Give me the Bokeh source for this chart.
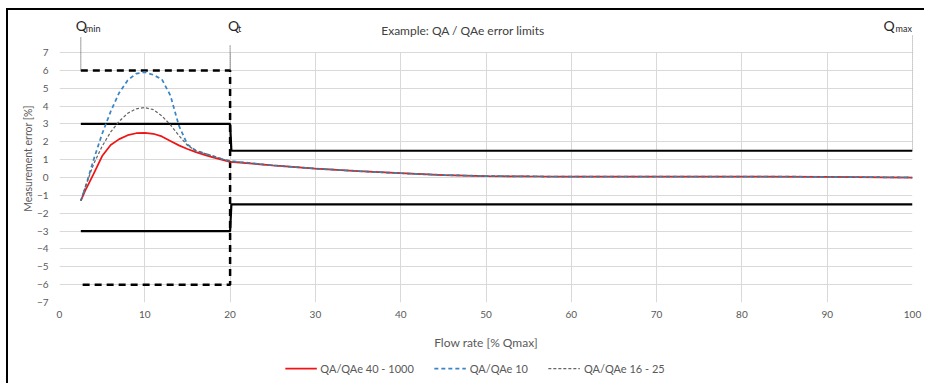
from bokeh.plotting import figure
from bokeh.layouts import column
from bokeh.models import Range1d, FixedTicker, Legend, LegendItem, Label, ColumnDataSource, Title
from bokeh.embed import file_html
from bokeh.resources import INLINE
from bokeh.core.properties import value

# ---------------- data ----------------
x_head = [2.5, 3, 4, 5, 6, 7, 8, 9, 10, 11, 12, 13, 14, 15, 16, 17, 18, 19, 20]
red_head = [-1.3, -0.75, 0.2, 1.2, 1.82, 2.15, 2.37, 2.48, 2.5, 2.45, 2.3, 2.05, 1.8, 1.6, 1.42, 1.27, 1.13, 1.0, 0.88]
blue_head = [-1.3, -0.6, 1.0, 2.45, 3.7, 4.75, 5.45, 5.82, 5.9, 5.75, 5.5, 4.6, 2.9, 1.85, 1.5, 1.35, 1.2, 1.05, 0.92]
gray_head = [-1.3, -0.55, 0.75, 1.75, 2.55, 3.15, 3.6, 3.85, 3.92, 3.8, 3.45, 2.95, 2.35, 1.8, 1.5, 1.35, 1.2, 1.05, 0.92]
x_tail = [25, 30, 35, 40, 45, 50, 55, 60, 70, 80, 90, 100]
y_tail = [0.68, 0.5, 0.36, 0.24, 0.14, 0.08, 0.06, 0.05, 0.05, 0.05, 0.04, 0.0]

limit_x = [2.5, 20, 20.15, 100]
upper_limit = [3, 3, 1.5, 1.5]
lower_limit = [-3, -3, -1.5, -1.5]
wide_x = [2.5, 20, 20, 2.5]
wide_y = [6, 6, -6, -6]

flow_marks = [2.5, 20, 100]          # Qmin, Qt, Qmax
flow_mark_level = [6, 6, 1.5]
flow_mark_names = ["min", "t", "max"]

series_names = ["QA/QAe 40 - 1000", "QA/QAe 10", "QA/QAe 16 - 25"]
x_ticks = [0, 10, 20, 30, 40, 50, 60, 70, 80, 90, 100]
y_ticks = [-7, -6, -5, -4, -3, -2, -1, 0, 1, 2, 3, 4, 5, 6, 7]

title_text = "Example: QA / QAe error limits"
x_label = "Flow rate [% Qmax]"
y_label = "Measurement error [%]"

FONT = "Lato"
GRAY_TXT = "#595959"

series_x = x_head + x_tail
series_y = [red_head + y_tail, blue_head + y_tail, gray_head + y_tail]

# ---------------- main figure ----------------
p = figure(width=918, height=346, output_backend="svg", toolbar_location=None,
           x_range=Range1d(0, 100), y_range=Range1d(-7, 9.13),
           min_border_left=51, min_border_right=14, min_border_top=4, min_border_bottom=54)
p.outline_line_color = None
p.background_fill_color = "white"
p.border_fill_color = "white"
p.styles = {"box-shadow": "-2px -2px 0 0 black, -2px 0 0 0 black"}

p.xgrid.ticker = FixedTicker(ticks=x_ticks)
p.ygrid.ticker = FixedTicker(ticks=y_ticks)
for g in (p.xgrid, p.ygrid):
    g.grid_line_color = "#D9D9D9"
    g.grid_line_width = 1
p.xgrid.cross_bounds = (-7, 7)

p.xaxis.ticker = FixedTicker(ticks=x_ticks)
p.yaxis.ticker = FixedTicker(ticks=y_ticks)
for ax in (p.xaxis, p.yaxis):
    ax.axis_line_color = None
    ax.major_tick_line_color = None
    ax.minor_tick_line_color = None
    ax.major_tick_out = 0
    ax.major_tick_in = 0
    ax.minor_tick_out = 0
    ax.major_label_text_font = FONT
    ax.major_label_text_font_size = "10px"
    ax.major_label_text_color = GRAY_TXT
    ax.axis_label_text_font = FONT
    ax.axis_label_text_font_style = "normal"
    ax.axis_label_text_color = GRAY_TXT
p.xaxis.axis_label = x_label
p.xaxis.axis_label_text_font_size = "12px"
p.xaxis.major_label_standoff = 8
p.xaxis.axis_label_standoff = 14
p.yaxis.major_label_standoff = 11
p.yaxis.axis_label_standoff = 0

p.add_layout(Title(text=y_label, align="center", offset=-19, standoff=0,
                   text_font=FONT, text_font_size="10.5px", text_font_style="normal",
                   text_color=GRAY_TXT), "left")

# limit lines
p.line(wide_x, wide_y, line_color="black", line_width=2.5, line_dash="7 5")
p.line(limit_x, upper_limit, line_color="black", line_width=2.2)
p.line(limit_x, lower_limit, line_color="black", line_width=2.2)

# curves
STY = [dict(line_color="#F01414", line_width=1.75),
       dict(line_color="#3A85C8", line_width=1.75, line_dash="4 3"),
       dict(line_color="#666666", line_width=1.25, line_dash=[3, 2])]
for ys, s in zip(series_y, STY):
    p.line(series_x, ys, **s)

# flow markers (Qmin, Qt, Qmax)
mark_top = [7.84, 7.39, 7.95]
p.segment(x0=flow_marks, y0=mark_top, x1=flow_marks, y1=flow_mark_level,
          line_color="#404040", line_width=1, line_dash="1 1")
msrc = ColumnDataSource(dict(x=flow_marks, y=[8.5] * 3, q=["Q"] * 3, sub=flow_mark_names,
                             qdx=[-5, -2, -29], sdx=[5, 8, -17]))
p.text(x="x", y="y", text="q", source=msrc, x_offset="qdx", text_font=value(FONT),
       text_font_size="14px", text_color="#262626", text_baseline="alphabetic", text_align="left")
p.text(x="x", y="y", text="sub", source=msrc, x_offset="sdx", y_offset=2.5, text_font=value(FONT),
       text_font_size="9px", text_color="#262626", text_baseline="alphabetic", text_align="left")

p.add_layout(Label(x=50, y=8.23, x_offset=-23, text=title_text, text_align="center",
                   text_baseline="middle", text_font=FONT, text_font_size="12px",
                   text_color="#404040"))

# ---------------- legend strip ----------------
q = figure(width=896, height=27, output_backend="svg", toolbar_location=None,
           x_range=Range1d(0, 1), y_range=Range1d(0, 1),
           x_axis_location=None, y_axis_location=None,
           min_border_left=0, min_border_right=0, min_border_top=0, min_border_bottom=3)
q.outline_line_color = None
q.grid.visible = False
q.styles = {"box-shadow": "-2px 0 0 0 black"}
# proxies (series lie outside this strip's 0..1 x-range, so only their legend swatches show)
rs = [q.line(series_x, ys, **s) for ys, s in zip(series_y, STY)]
legend = Legend(items=[LegendItem(label=n, renderers=[r]) for n, r in zip(series_names, rs)],
                orientation="horizontal", location="center", padding=0, margin=0,
                spacing=20, glyph_width=32, glyph_height=16, label_height=16,
                label_standoff=4, border_line_color=None, background_fill_alpha=0,
                label_text_font=FONT, label_text_font_size="11px", label_text_color=GRAY_TXT)
q.add_layout(legend, "center")

layout = column(p, q, spacing=0, margin=(10, 0, 0, 8))

open("out.html", "w").write(file_html(layout, INLINE))
